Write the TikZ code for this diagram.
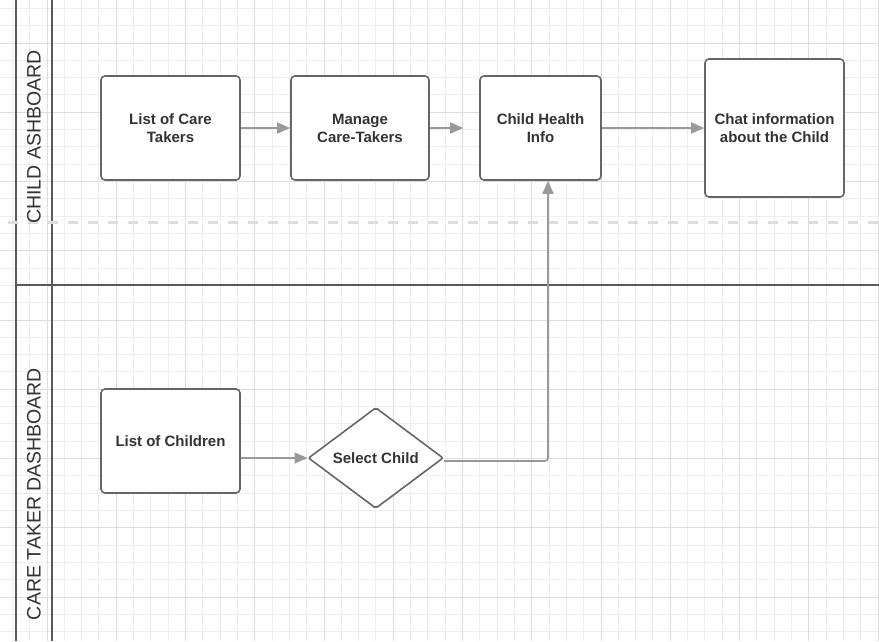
\documentclass[tikz,border=0pt]{standalone}
\usepackage{fontspec}
\setmainfont{Liberation Sans}
\usetikzlibrary{shapes.geometric}
\usetikzlibrary{arrows.meta}
\pgfdeclarelayer{gridlayer}
\pgfdeclarelayer{edgelayer}
\pgfdeclarelayer{nodelayer}
\pgfsetlayers{gridlayer,main,edgelayer,nodelayer}
\definecolor{gridminor}{RGB}{238,238,238}
\definecolor{gridmajor}{RGB}{222,222,222}
\definecolor{boxline}{RGB}{102,102,102}
\definecolor{arrowline}{RGB}{153,153,153}
\definecolor{laneline}{RGB}{90,90,90}
\definecolor{labeltext}{RGB}{51,51,51}
\definecolor{divider}{RGB}{221,221,221}
\tikzstyle{box}=[rectangle, rounded corners=4pt, draw=boxline, line width=1.6pt, fill=white, text=labeltext, font=\bfseries\fontsize{15}{18}\selectfont, align=center, inner sep=0pt]
\tikzstyle{decision}=[diamond, rounded corners=2pt, draw=boxline, line width=1.6pt, fill=white, text=labeltext, font=\bfseries\fontsize{15}{18}\selectfont, inner sep=0pt, minimum width=135pt, minimum height=101pt]
\tikzstyle{lane}=[rotate=90, text=labeltext, font=\fontsize{19.5}{22}\selectfont, inner sep=0pt]
\tikzstyle{flow}=[draw=arrowline, line width=1.6pt, -{Triangle[length=13pt,width=11pt]}]
\tikzstyle{laneedge}=[draw=laneline, line width=1.8pt]
\tikzstyle{splitline}=[draw=divider, line width=3pt, dash pattern=on 10pt off 10pt]

\begin{document}
\begin{tikzpicture}[x=1pt, y=-1pt]
	\useasboundingbox (0,0) rectangle (879,641);
	\begin{pgfonlayer}{gridlayer}
		\foreach \k in {-3,...,48} \draw[gridminor, line width=1pt] ({47+\k*17.3125},0) -- ({47+\k*17.3125},641);
		\foreach \k in {-2,...,36} \draw[gridminor, line width=1pt] (0,{43+\k*17.3125}) -- (879,{43+\k*17.3125});
		\foreach \k in {-1,...,12} \draw[gridmajor, line width=1pt] ({47+\k*69.25},0) -- ({47+\k*69.25},641);
		\foreach \k in {-1,...,9} \draw[gridmajor, line width=1pt] (0,{43+\k*69.25}) -- (879,{43+\k*69.25});
	\end{pgfonlayer}
	\draw[laneedge] (16,0) -- (16,641);
	\draw[laneedge] (52,0) -- (52,641);
	\draw[laneedge] (16,285) -- (879,285);
	\draw[splitline] (8,222) -- (879,222);
	\begin{pgfonlayer}{nodelayer}
		\node [lane] (childlane) at (34,137) {CHILD ASHBOARD};
		\node [lane] (carelane) at (34,494) {CARE TAKER DASHBOARD};
		\node [box, minimum width=139pt, minimum height=104pt] (caretakers) at (170.5,128) {List of Care\\Takers};
		\node [box, minimum width=138pt, minimum height=104pt] (manage) at (360,128) {Manage\\Care-Takers};
		\node [box, minimum width=121pt, minimum height=104pt] (health) at (540.5,128) {Child Health\\Info};
		\node [box, minimum width=139pt, minimum height=138pt] (chat) at (774.5,128) {Chat information\\about the Child};
		\node [box, minimum width=139pt, minimum height=104pt] (children) at (170.5,441) {List of Children};
		\node [decision] (select) at (375.8,458) {Select Child};
	\end{pgfonlayer}
	\begin{pgfonlayer}{edgelayer}
		\draw [flow] (caretakers.east) to (manage.west);
		\draw [flow, shorten >=16pt] (manage.east) to (health.west);
		\draw [flow] (health.east) to (chat.west);
		\draw [flow] (select.west -| children.east) to (select.west);
		\draw [flow, rounded corners=3pt] ([yshift=-3pt]select.east) -| ([xshift=7.5pt]health.south);
	\end{pgfonlayer}
\end{tikzpicture}
\end{document}
